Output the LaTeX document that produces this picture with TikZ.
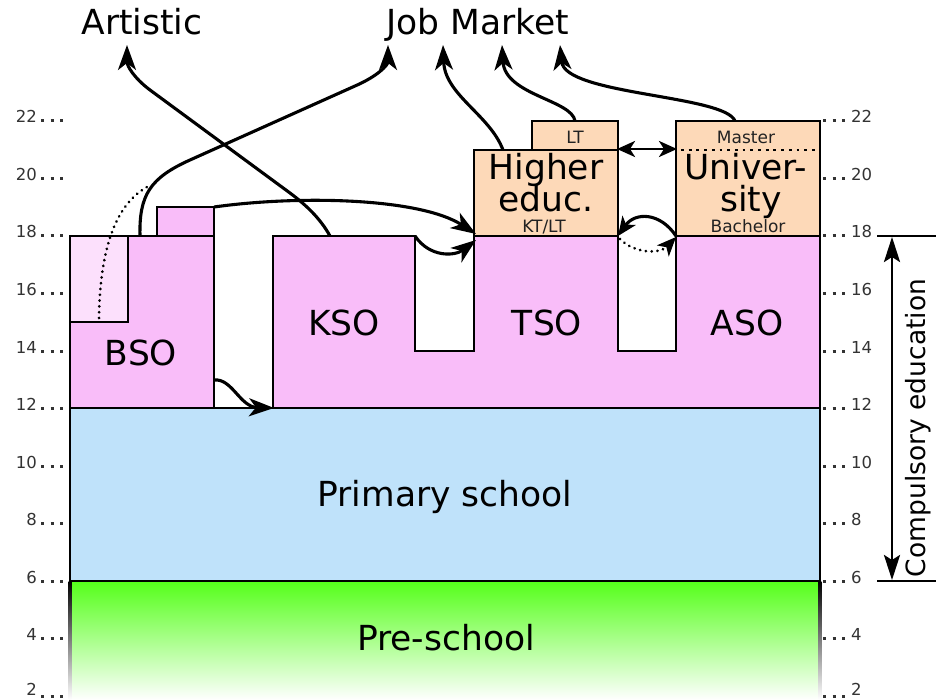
\documentclass[tikz,border=0pt]{standalone}
\usepackage{fontspec}
\setmainfont{DejaVu Sans}
\usetikzlibrary{arrows.meta}
\definecolor{pinkc}{RGB}{249,189,249}
\definecolor{lpink}{RGB}{252,224,252}
\definecolor{peach}{RGB}{253,217,184}
\definecolor{bluec}{RGB}{191,226,250}
\definecolor{greenc}{RGB}{85,255,26}
\definecolor{tickc}{RGB}{51,51,51}
\definecolor{smallc}{RGB}{34,34,34}
\begin{document}
\begin{tikzpicture}[x=1pt,y=-1pt,
  box/.style={line width=2.8pt, draw=black, line join=miter},
  conn/.style={line width=3.1pt, -{Stealth[length=25pt,width=18pt,inset=7pt]}},
  dconn/.style={line width=2.9pt, {Stealth[length=18pt,width=16pt,inset=5pt]}-{Stealth[length=18pt,width=16pt,inset=5pt]}},
  sconn/.style={line width=3.1pt, -{Stealth[length=19pt,width=16pt,inset=5pt]}},
  dotline/.style={line width=3pt, line cap=round, dash pattern=on 0.01pt off 5.8pt},
  tickdot/.style={line width=3pt, draw=tickc, dash pattern=on 3pt off 6.7pt},
  ticklab/.style={text=tickc, font=\fontsize{16.5}{17}\selectfont, inner sep=0pt},
  bigtxt/.style={font=\fontsize{34.5}{34}\selectfont, inner sep=0pt},
  smalltxt/.style={text=smallc, font=\fontsize{17}{17}\selectfont, inner sep=0pt},
  compt/.style={font=\fontsize{26.5}{26}\selectfont, inner sep=0pt}
]
\useasboundingbox (0,0) rectangle (936,700);

% pre-school
\shade[top color=greenc, bottom color=white] (70,581) rectangle (820,700);
\shade[top color=black, bottom color=white] (68.6,581) rectangle (71.4,700);
\shade[top color=black, bottom color=white] (818.6,581) rectangle (821.4,700);

% primary school
\draw[box, fill=bluec] (70,408) rectangle (820,581);

% BSO
\draw[box, fill=pinkc] (70,236) rectangle (214,408);
\draw[box, fill=lpink] (70,236) rectangle (128,322);
\draw[box, fill=pinkc] (157,207) rectangle (214,236);

% KSO TSO ASO
\draw[box, fill=pinkc] (273,408) -- (273,236) -- (415,236) -- (415,351) -- (474,351)
  -- (474,236) -- (618,236) -- (618,351) -- (676,351) -- (676,236) -- (820,236)
  -- (820,408) -- cycle;

% higher education
\draw[box, fill=peach] (474,150) rectangle (618,236);
\draw[box, fill=peach] (532,121) rectangle (618,150);
\draw[box, fill=peach] (676,121) rectangle (820,236);
\draw[line width=2.8pt, dash pattern=on 2.8pt off 4.9pt] (681,150) -- (818,150);

% ticks
\foreach \a in {2,4,...,22} {
  \pgfmathsetmacro\yy{236+(18-\a)*28.75}
  \pgfmathsetmacro\yb{min(\yy+2,695)}
  \node[ticklab, anchor=base east] (tl\a) at (37,\yb) {\a};
  \node[ticklab, anchor=base west] (tr\a) at (851,\yb) {\a};
  \draw[tickdot] (41,\yy) -- (70,\yy);
  \draw[tickdot] (823,\yy) -- (850,\yy);
}

% labels
\node[bigtxt, anchor=base] (art) at (142,35) {Artistic};
\node[bigtxt, anchor=base] (job) at (478,35) {Job Market};
\node[bigtxt, anchor=base] (bso) at (141,365) {BSO};
\node[bigtxt, anchor=base] (kso) at (344,335) {KSO};
\node[bigtxt, anchor=base] (tso) at (547,335) {TSO};
\node[bigtxt, anchor=base] (aso) at (747,335) {ASO};
\node[bigtxt, anchor=base] (prim) at (445,506) {Primary school};
\node[bigtxt, anchor=base] (pre) at (446,650) {Pre-school};
\node[bigtxt, anchor=base] (hi1) at (546,180) {Higher};
\node[bigtxt, anchor=base] (hi2) at (546,212) {educ.};
\node[bigtxt, anchor=base] (un1) at (746,180) {Univer-};
\node[bigtxt, anchor=base] (un2) at (751,212) {sity};
\node[smalltxt, anchor=base] (lt) at (575,144) {LT};
\node[smalltxt, anchor=base] (mas) at (746,144) {Master};
\node[smalltxt, anchor=base] (ktlt) at (544,233) {KT/LT};
\node[smalltxt, anchor=base] (bach) at (748,233) {Bachelor};
\node[compt, rotate=90] (comp) at (918,428) {Compulsory education};

% connector end points
\coordinate (bsoA) at (140,236);
\coordinate (lbA) at (99,318);
\coordinate (joinA) at (147,187);
\coordinate (jm1) at (388,45);
\coordinate (jm2) at (443,45);
\coordinate (jm3) at (502,45);
\coordinate (jm4) at (560,45);
\coordinate (artT) at (127,45);
\coordinate (ksoA) at (330,236);
\coordinate (sbA) at (214,207);
\coordinate (heA) at (476,234);
\coordinate (heB) at (476,240);
\coordinate (ksoB) at (415,236);
\coordinate (bsoB) at (214,380);
\coordinate (ksoC) at (274,408);
\coordinate (heTop) at (503,150);
\coordinate (ltTop) at (575,121);
\coordinate (unTop) at (735,121);
\coordinate (heR) at (617,149);
\coordinate (unL) at (677,149);
\coordinate (heBR) at (618,236);
\coordinate (unBL) at (676,236);
\coordinate (heBR2) at (620,239);
\coordinate (unBL2) at (676,237);
\coordinate (cu) at (892,237);
\coordinate (cd) at (892,580);
\coordinate (cl1) at (877,236);
\coordinate (cr1) at (936,236);
\coordinate (cl2) at (877,581);
\coordinate (cr2) at (936,581);

% connectors
\draw[conn] (bsoA) .. controls (139,195) and (150,178) .. (190,160) -- (355,86)
  .. controls (378,76) and (388,65) .. (jm1);
\draw[dotline] (lbA) .. controls (100,250) and (115,205) .. (joinA);
\draw[conn] (ksoA) .. controls (320,218) and (306,205) .. (290,193) -- (150,90)
  .. controls (134,78) and (127,66) .. (artT);
\draw[conn] (sbA) .. controls (300,195) and (420,198) .. (heA);
\draw[conn] (ksoB) .. controls (430,258) and (455,256) .. (heB);
\draw[conn] (bsoB) .. controls (232,378) and (240,407) .. (ksoC);
\draw[conn] (heTop) .. controls (490,115) and (445,95) .. (jm2);
\draw[conn] (ltTop) .. controls (572,100) and (505,95) .. (jm3);
\draw[conn] (unTop) .. controls (725,95) and (565,95) .. (jm4);
\draw[dconn] (heR) -- (unL);
\draw[sconn] (unBL) .. controls (660,212) and (635,212) .. (heBR);
\draw[sconn, dotline] (heBR2) .. controls (635,254) and (660,254) .. (unBL2);

% compulsory education
\draw[line width=2.8pt] (cl1) -- (cr1);
\draw[line width=2.8pt] (cl2) -- (cr2);
\draw[line width=2.8pt, {Stealth[length=25pt,width=16pt,inset=5pt]}-{Stealth[length=25pt,width=16pt,inset=5pt]}] (cu) -- (cd);
\end{tikzpicture}
\end{document}
